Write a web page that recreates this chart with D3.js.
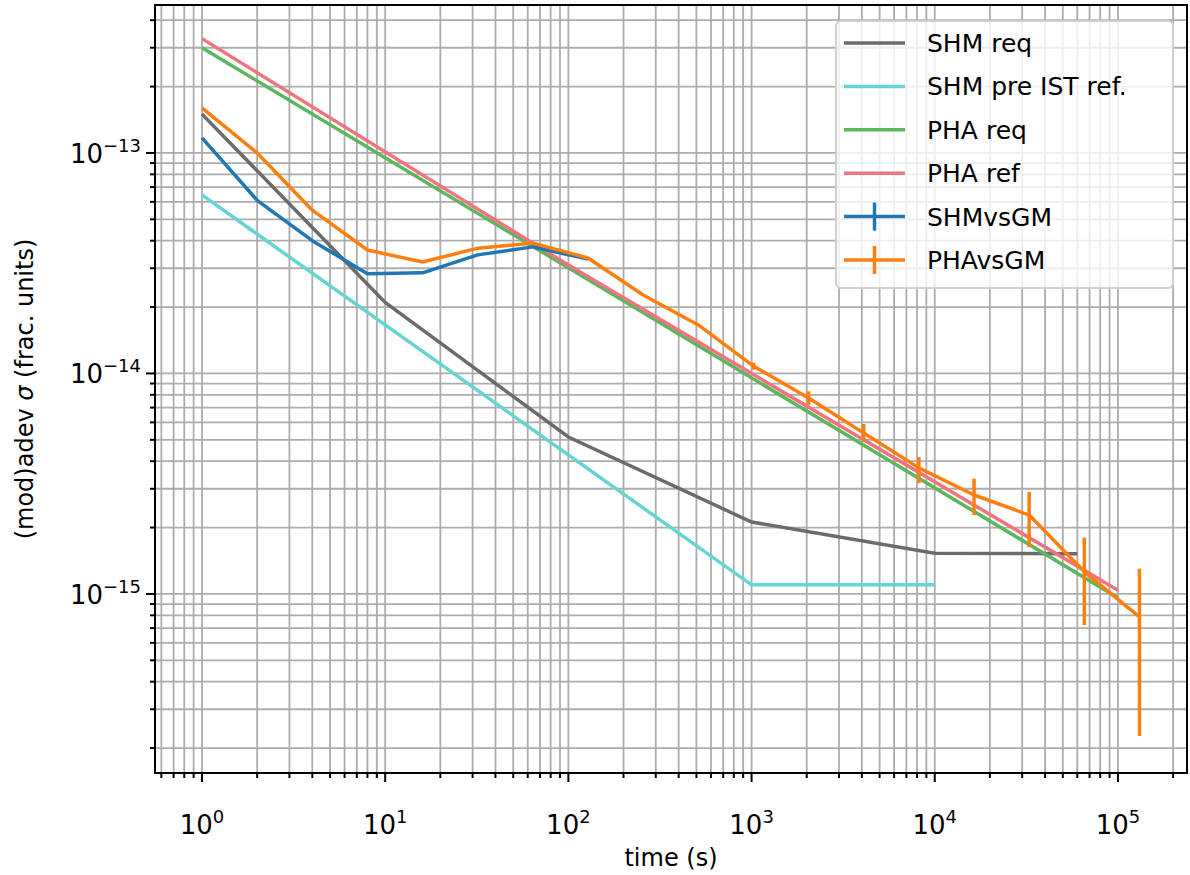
<!DOCTYPE html>
<meta charset="utf-8">
<style>
body { margin: 0; background: #fff; }
text { font-family: "DejaVu Sans", sans-serif; fill: #000; }
.grid line { stroke: #acacac; stroke-width: 1.8px; }
</style>
<svg width="1190" height="875"></svg>
<script src="https://cdn.jsdelivr.net/npm/d3@7"></script>
<script>
var width = 1190, height = 875;
var mLeft = 155, mRight = 1187, mTop = 5, mBottom = 773;

// requirement / reference curves
var shmReqT = [1, 10, 100, 1000, 10000, 60000];
var shmReqV = [1.5e-13, 2.1e-14, 5.15e-15, 2.12e-15, 1.53e-15, 1.52e-15];

var shmPreT = [1, 1000, 10000];
var shmPreV = [6.45e-14, 1.1e-15, 1.1e-15];

var phaReqT = [1, 100000];
var phaReqV = [3.0e-13, 9.6e-16];

var phaRefT = [1, 100, 100000];
var phaRefV = [3.3e-13, 3.1e-14, 1.04e-15];

// measured
var shmT = [1, 2, 4, 8, 16, 32, 64, 128];
var shmV = [1.17e-13, 6.1e-14, 4.0e-14, 2.83e-14, 2.86e-14, 3.45e-14, 3.75e-14, 3.3e-14];
var shmErr = [0, 0, 0, 0, 0, 0, 0, 0];

var phaT = [1, 2, 4, 8, 16, 32, 64, 128, 256, 512, 1024, 2048, 4096, 8192, 16384, 32768, 65536, 131072];
var phaV = [1.6e-13, 1.0e-13, 5.5e-14, 3.63e-14, 3.2e-14, 3.7e-14, 3.9e-14, 3.34e-14, 2.27e-14, 1.66e-14,
            1.08e-14, 7.74e-15, 5.37e-15, 3.73e-15, 2.81e-15, 2.28e-15, 1.26e-15, 7.87e-16];
var phaLo = [0, 0, 0, 0, 0, 0, 0, 0, 0, 0, 1.04e-14, 7.2e-15, 4.9e-15, 3.18e-15, 2.28e-15, 1.63e-15, 7.23e-16, 2.27e-16];
var phaHi = [0, 0, 0, 0, 0, 0, 0, 0, 0, 0, 1.12e-14, 8.3e-15, 5.9e-15, 4.18e-15, 3.33e-15, 2.9e-15, 1.8e-15, 1.3e-15];

var x = d3.scaleLog()
    .domain([Math.pow(10, -0.2566), Math.pow(10, 5.377)])
    .range([mLeft, mRight]);
var y = d3.scaleLog()
    .domain([Math.pow(10, -15.812), Math.pow(10, -12.329)])
    .range([mBottom, mTop]);

var svg = d3.select("svg");

svg.append("defs").append("clipPath").attr("id", "clip")
  .append("rect").attr("x", mLeft).attr("y", mTop)
  .attr("width", mRight - mLeft).attr("height", mBottom - mTop);

function logTicks(lo, hi) {
  var major = [], minor = [];
  for (var e = lo; e <= hi; e++) {
    major.push(Math.pow(10, e));
    for (var k = 2; k < 10; k++) minor.push(k * Math.pow(10, e));
  }
  return {major: major, minor: minor};
}
var xt = logTicks(-1, 5), yt = logTicks(-17, -13);
function inX(v) { return x(v) >= mLeft - 0.5 && x(v) <= mRight + 0.5; }
function inY(v) { return y(v) >= mTop - 0.5 && y(v) <= mBottom + 0.5; }
var xAll = xt.major.concat(xt.minor).filter(inX);
var yAll = yt.major.concat(yt.minor).filter(inY);

var grid = svg.append("g").attr("class", "grid");
grid.selectAll(".gx").data(xAll).enter().append("line")
    .attr("x1", function(d) { return x(d); }).attr("x2", function(d) { return x(d); })
    .attr("y1", mTop).attr("y2", mBottom);
grid.selectAll(".gy").data(yAll).enter().append("line")
    .attr("y1", function(d) { return y(d); }).attr("y2", function(d) { return y(d); })
    .attr("x1", mLeft).attr("x2", mRight);

var plot = svg.append("g").attr("clip-path", "url(#clip)");

var line = d3.line()
    .x(function(d) { return x(d[0]); })
    .y(function(d) { return y(d[1]); });

function zip(a, b) { return a.map(function(v, i) { return [v, b[i]]; }); }

var curves = [
  {t: shmReqT, v: shmReqV, c: "#6b6b6b"},
  {t: shmPreT, v: shmPreV, c: "#66d4d4"},
  {t: phaReqT, v: phaReqV, c: "#5db55d"},
  {t: phaRefT, v: phaRefV, c: "#f07480"}
];
curves.forEach(function(s) {
  plot.append("path").datum(zip(s.t, s.v))
      .attr("d", line).attr("fill", "none")
      .attr("stroke", s.c).attr("stroke-width", 3.5);
});

function errSeries(t, v, lo, hi, c) {
  plot.append("path").datum(zip(t, v))
      .attr("d", line).attr("fill", "none")
      .attr("stroke", c).attr("stroke-width", 3.5).attr("stroke-linejoin", "round");
  var bars = t.map(function(d, i) { return {t: d, lo: lo[i], hi: hi[i]}; })
      .filter(function(d) { return d.lo > 0; });
  plot.selectAll(null).data(bars).enter().append("line")
      .attr("x1", function(d) { return x(d.t); }).attr("x2", function(d) { return x(d.t); })
      .attr("y1", function(d) { return y(d.lo); }).attr("y2", function(d) { return y(d.hi); })
      .attr("stroke", c).attr("stroke-width", 3.5);
}
errSeries(shmT, shmV, shmErr, shmErr, "#1f77b4");
errSeries(phaT, phaV, phaLo, phaHi, "#ff7f0e");

// spines
svg.append("rect").attr("x", mLeft).attr("y", mTop)
   .attr("width", mRight - mLeft).attr("height", mBottom - mTop)
   .attr("fill", "none").attr("stroke", "#000").attr("stroke-width", 2);

// ticks
var ax = svg.append("g");
ax.selectAll(".tx").data(xAll).enter().append("line")
  .attr("x1", function(d) { return x(d); }).attr("x2", function(d) { return x(d); })
  .attr("y1", mBottom).attr("y2", function(d) { return mBottom + (xt.major.indexOf(d) >= 0 ? 9 : 5); })
  .attr("stroke", "#000").attr("stroke-width", 2);
ax.selectAll(".ty").data(yAll).enter().append("line")
  .attr("y1", function(d) { return y(d); }).attr("y2", function(d) { return y(d); })
  .attr("x1", mLeft).attr("x2", function(d) { return mLeft - (yt.major.indexOf(d) >= 0 ? 9 : 5); })
  .attr("stroke", "#000").attr("stroke-width", 2);

function expOf(d) { return Math.round(Math.log10(d)); }
var xl = ax.selectAll(".lx").data(xt.major.filter(inX)).enter().append("text")
  .attr("x", function(d) { return x(d); }).attr("y", 834)
  .attr("text-anchor", "middle").style("font-size", "26px");
xl.append("tspan").text("10");
xl.append("tspan").attr("dy", -11).style("font-size", "18px")
  .text(function(d) { return String(expOf(d)).replace("-", "\u2212"); });

var yl = ax.selectAll(".ly").data(yt.major.filter(inY)).enter().append("text")
  .attr("x", mLeft - 14).attr("y", function(d) { return y(d) + 10; })
  .attr("text-anchor", "end").style("font-size", "26px");
yl.append("tspan").text("10");
yl.append("tspan").attr("dy", -11).style("font-size", "18px")
  .text(function(d) { return String(expOf(d)).replace("-", "\u2212"); });

svg.append("text").attr("x", (mLeft + mRight) / 2).attr("y", 866)
   .attr("text-anchor", "middle").style("font-size", "24px").text("time (s)");

var yt2 = svg.append("text")
   .attr("transform", "translate(33," + ((mTop + mBottom) / 2) + ") rotate(-90)")
   .attr("text-anchor", "middle").style("font-size", "24px");
yt2.append("tspan").text("(mod)adev ");
yt2.append("tspan").style("font-style", "italic").text("\u03c3");
yt2.append("tspan").text(" (frac. units)");

// legend
var legItems = [
  {name: "SHM req", c: "#6b6b6b", err: false},
  {name: "SHM pre IST ref.", c: "#66d4d4", err: false},
  {name: "PHA req", c: "#5db55d", err: false},
  {name: "PHA ref", c: "#f07480", err: false},
  {name: "SHMvsGM", c: "#1f77b4", err: true},
  {name: "PHAvsGM", c: "#ff7f0e", err: true}
];
var lg = svg.append("g");
lg.append("rect").attr("x", 836).attr("y", 21).attr("width", 337).attr("height", 267)
  .attr("rx", 5).attr("fill", "#fff").attr("fill-opacity", 0.8)
  .attr("stroke", "#d0d0d0").attr("stroke-width", 2);
var row = lg.selectAll(".row").data(legItems).enter().append("g")
  .attr("transform", function(d, i) { return "translate(0," + (43 + i * 43.4) + ")"; });
row.append("line").attr("x1", 844).attr("x2", 905).attr("y1", 0).attr("y2", 0)
  .attr("stroke", function(d) { return d.c; }).attr("stroke-width", 3.5);
row.filter(function(d) { return d.err; }).append("line")
  .attr("x1", 874.5).attr("x2", 874.5).attr("y1", -14).attr("y2", 14)
  .attr("stroke", function(d) { return d.c; }).attr("stroke-width", 3.5);
row.append("text").attr("x", 927).attr("y", 9).style("font-size", "25px")
  .text(function(d) { return d.name; });
</script>
